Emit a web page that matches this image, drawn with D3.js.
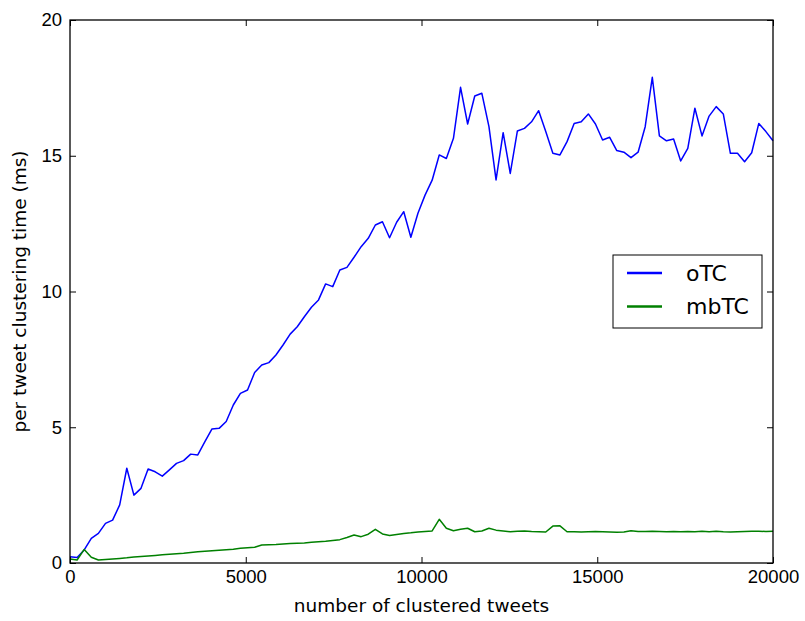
<!DOCTYPE html>
<html>
<head>
<meta charset="utf-8">
<script src="https://cdn.jsdelivr.net/npm/d3@7"></script>
<style>
  body { margin: 0; background: #fff; }
  svg { display: block; font-family: "DejaVu Sans", sans-serif; }
</style>
</head>
<body>
<svg id="chart"></svg>
<script>
// sample points (number of clustered tweets)
const tweets = [
  0, 202, 404, 606, 808, 1010, 1212, 1414, 1616, 1818,
  2020, 2222, 2424, 2626, 2828, 3030, 3232, 3434, 3636, 3838,
  4040, 4242, 4444, 4646, 4848, 5051, 5253, 5455, 5657, 5859,
  6061, 6263, 6465, 6667, 6869, 7071, 7273, 7475, 7677, 7879,
  8081, 8283, 8485, 8687, 8889, 9091, 9293, 9495, 9697, 9899,
  10101, 10303, 10505, 10707, 10909, 11111, 11313, 11515, 11717, 11919,
  12121, 12323, 12525, 12727, 12929, 13131, 13333, 13535, 13737, 13939,
  14141, 14343, 14545, 14747, 14949, 15152, 15354, 15556, 15758, 15960,
  16162, 16364, 16566, 16768, 16970, 17172, 17374, 17576, 17778, 17980,
  18182, 18384, 18586, 18788, 18990, 19192, 19394, 19596, 19798, 20000
];

// per tweet clustering time (ms)
const otc = [
  0.23, 0.20, 0.48, 0.91, 1.09, 1.46, 1.58, 2.14, 3.49, 2.50,
  2.75, 3.46, 3.36, 3.20, 3.43, 3.67, 3.77, 4.01, 3.98, 4.47,
  4.94, 4.96, 5.21, 5.82, 6.25, 6.37, 7.02, 7.29, 7.38, 7.66,
  8.03, 8.43, 8.70, 9.07, 9.42, 9.69, 10.28, 10.18, 10.79, 10.89,
  11.26, 11.65, 11.96, 12.45, 12.57, 11.98, 12.55, 12.94, 12.00, 12.88,
  13.55, 14.10, 15.03, 14.90, 15.64, 17.52, 16.17, 17.20, 17.30, 16.07,
  14.11, 15.85, 14.35, 15.91, 16.01, 16.25, 16.66, 15.89, 15.09, 15.03,
  15.52, 16.19, 16.25, 16.54, 16.17, 15.58, 15.68, 15.19, 15.13, 14.93,
  15.13, 16.07, 17.89, 15.73, 15.55, 15.62, 14.81, 15.27, 16.75, 15.73,
  16.46, 16.81, 16.54, 15.09, 15.09, 14.78, 15.11, 16.19, 15.89, 15.55
];

const mbtc = [
  0.15, 0.11, 0.50, 0.21, 0.11, 0.13, 0.15, 0.17, 0.19, 0.22,
  0.24, 0.26, 0.28, 0.30, 0.32, 0.34, 0.36, 0.39, 0.41, 0.43,
  0.45, 0.47, 0.49, 0.51, 0.54, 0.56, 0.58, 0.66, 0.67, 0.68,
  0.70, 0.72, 0.73, 0.74, 0.76, 0.78, 0.80, 0.83, 0.86, 0.94,
  1.03, 0.97, 1.06, 1.24, 1.07, 1.01, 1.05, 1.09, 1.11, 1.14,
  1.16, 1.18, 1.61, 1.28, 1.19, 1.24, 1.28, 1.15, 1.18, 1.28,
  1.21, 1.18, 1.15, 1.17, 1.18, 1.16, 1.15, 1.14, 1.36, 1.37,
  1.15, 1.15, 1.14, 1.15, 1.16, 1.15, 1.14, 1.13, 1.14, 1.19,
  1.16, 1.16, 1.17, 1.16, 1.15, 1.16, 1.15, 1.16, 1.15, 1.17,
  1.15, 1.17, 1.15, 1.14, 1.15, 1.16, 1.17, 1.17, 1.16, 1.17
];

const series = [
  { name: "oTC", values: otc, color: "#0000ff" },
  { name: "mbTC", values: mbtc, color: "#008000" }
];

const xTicks = [0, 5000, 10000, 15000, 20000];
const yTicks = [0, 5, 10, 15, 20];

const width = 805, height = 621;
const margin = { top: 20, right: 32, bottom: 58, left: 70 };
const fontSize = 18.5;

const svg = d3.select("#chart")
  .attr("width", width)
  .attr("height", height)
  .attr("viewBox", [0, 0, width, height]);

const x = d3.scaleLinear()
  .domain([0, 20000])
  .range([margin.left, width - margin.right]);

const y = d3.scaleLinear()
  .domain([0, 20])
  .range([height - margin.bottom, margin.top]);

// lines
const line = d3.line()
  .x((d, i) => x(tweets[i]))
  .y((d) => y(d));

const plot = svg.append("g");

plot.selectAll("path.series")
  .data(series)
  .join("path")
  .attr("class", "series")
  .attr("fill", "none")
  .attr("stroke", (d) => d.color)
  .attr("stroke-width", 1.5)
  .attr("stroke-linejoin", "round")
  .attr("d", (d) => line(d.values));

// axes, ticks point inward on all four sides
function styleAxis(g, showLabels) {
  g.select(".domain").remove();
  g.selectAll(".tick line").attr("stroke", "#000").attr("stroke-width", 1);
  g.selectAll(".tick text")
    .attr("fill", "#000")
    .style("font-size", fontSize + "px")
    .style("display", showLabels ? null : "none");
}

svg.append("g")
  .attr("transform", `translate(0,${y(0)})`)
  .call(d3.axisBottom(x).tickValues(xTicks).tickSize(-6).tickPadding(7).tickFormat(d3.format("d")))
  .call((g) => styleAxis(g, true));

svg.append("g")
  .attr("transform", `translate(0,${y(20)})`)
  .call(d3.axisTop(x).tickValues(xTicks).tickSize(-6))
  .call((g) => styleAxis(g, false));

svg.append("g")
  .attr("transform", `translate(${x(0)},0)`)
  .call(d3.axisLeft(y).tickValues(yTicks).tickSize(-6).tickPadding(8))
  .call((g) => styleAxis(g, true));

svg.append("g")
  .attr("transform", `translate(${x(20000)},0)`)
  .call(d3.axisRight(y).tickValues(yTicks).tickSize(-6))
  .call((g) => styleAxis(g, false));

// frame
svg.append("rect")
  .attr("x", x(0))
  .attr("y", y(20))
  .attr("width", x(20000) - x(0))
  .attr("height", y(0) - y(20))
  .attr("fill", "none")
  .attr("stroke", "#000")
  .attr("stroke-width", 1.3);

// axis labels
svg.append("text")
  .attr("x", (x(0) + x(20000)) / 2)
  .attr("y", 612)
  .attr("text-anchor", "middle")
  .style("font-size", fontSize + "px")
  .text("number of clustered tweets");

svg.append("text")
  .attr("transform", `translate(26,${(y(0) + y(20)) / 2}) rotate(-90)`)
  .attr("text-anchor", "middle")
  .style("font-size", fontSize + "px")
  .text("per tweet clustering time (ms)");

// legend
const legend = svg.append("g").attr("transform", "translate(613,255)");

legend.append("rect")
  .attr("width", 149)
  .attr("height", 73)
  .attr("fill", "#fff")
  .attr("stroke", "#000")
  .attr("stroke-width", 1);

const item = legend.selectAll("g.item")
  .data(series)
  .join("g")
  .attr("class", "item")
  .attr("transform", (d, i) => `translate(0,${18 + i * 33.5})`);

item.append("line")
  .attr("x1", 14)
  .attr("x2", 49)
  .attr("stroke", (d) => d.color)
  .attr("stroke-width", 2.5);

item.append("text")
  .attr("x", 73)
  .attr("dy", "0.35em")
  .style("font-size", "22px")
  .text((d) => d.name);
</script>
</body>
</html>
